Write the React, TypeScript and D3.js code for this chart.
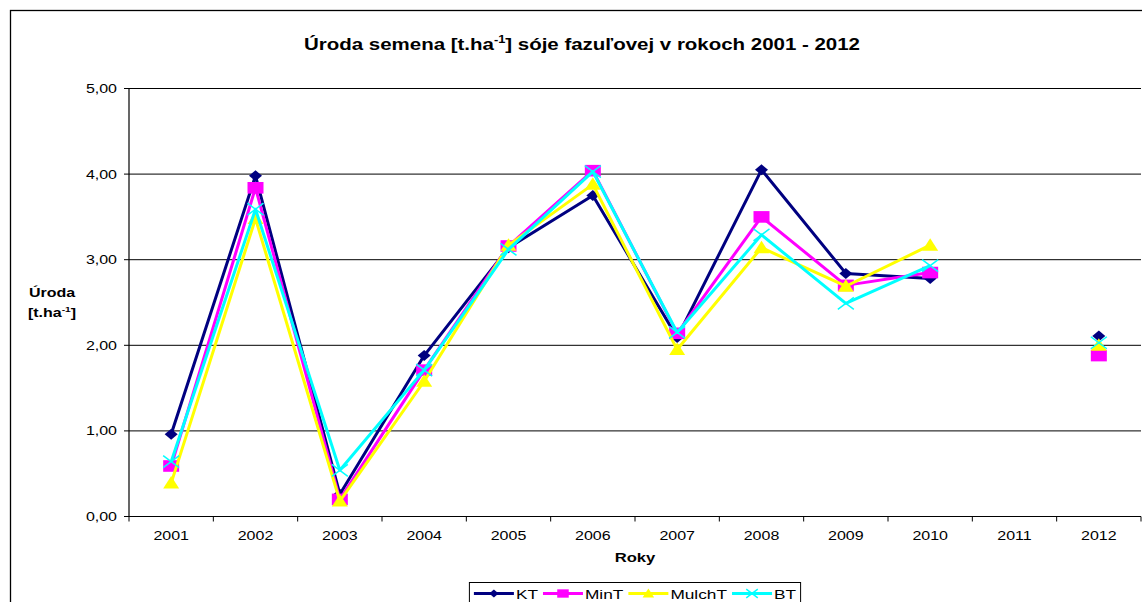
import React, { useEffect, useRef } from "react";
import * as d3 from "d3";

// Yields of soybean seed per year and tillage variant (t/ha); 2011 has no data.
const years = ["2001", "2002", "2003", "2004", "2005", "2006", "2007", "2008", "2009", "2010", "2011", "2012"];
const KT: (number | null)[] = [0.96, 3.98, 0.26, 1.88, 3.14, 3.75, 2.09, 4.05, 2.84, 2.78, null, 2.11];
const MinT: (number | null)[] = [0.59, 3.84, 0.2, 1.71, 3.16, 4.04, 2.14, 3.5, 2.7, 2.85, null, 1.88];
const MulchT: (number | null)[] = [0.39, 3.48, 0.18, 1.58, 3.17, 3.88, 1.95, 3.14, 2.69, 3.17, null, 2.0];
const BT: (number | null)[] = [0.64, 3.59, 0.54, 1.71, 3.12, 4.03, 2.15, 3.29, 2.49, 2.93, null, 2.03];
const yTicks = [0, 1, 2, 3, 4, 5];

const seriesNames = ["KT", "MinT", "MulchT", "BT"];
const seriesValues = [KT, MinT, MulchT, BT];
const seriesColors = ["#000080", "#FF00FF", "#FFFF00", "#00FFFF"];
const seriesMarkers = ["diamond", "square", "triangle", "cross"];

const W = 1142;
const H = 602;
const SX = 1.28; // horizontal text stretch
const FONT = "'Liberation Sans', Arial, Helvetica, sans-serif";

function drawMarker(g: d3.Selection<SVGGElement, unknown, null, undefined>, kind: string, color: string, k: number) {
  if (kind === "diamond") {
    g.append("path")
      .attr("d", `M0,${-5.5 * k}L${6.5 * k},0L0,${5.5 * k}L${-6.5 * k},0Z`)
      .attr("fill", color);
  } else if (kind === "square") {
    g.append("rect")
      .attr("x", -8 * k)
      .attr("y", -5.8 * k)
      .attr("width", 16 * k)
      .attr("height", 11.6 * k)
      .attr("fill", color);
  } else if (kind === "triangle") {
    g.append("path")
      .attr("d", `M0,${-7 * k}L${8 * k},${5.5 * k}L${-8 * k},${5.5 * k}Z`)
      .attr("fill", color);
  } else {
    g.append("path")
      .attr("d", `M${-8 * k},${-6 * k}L${8 * k},${6 * k}M${-8 * k},${6 * k}L${8 * k},${-6 * k}`)
      .attr("stroke", color)
      .attr("stroke-width", 1.5)
      .attr("fill", "none");
  }
}

export default function App() {
  const ref = useRef<SVGSVGElement | null>(null);

  useEffect(() => {
    const svg = d3.select(ref.current as SVGSVGElement);
    svg.selectAll("*").remove();

    // chart frame
    svg.append("rect")
      .attr("x", 10.5)
      .attr("y", 10.5)
      .attr("width", 1300)
      .attr("height", 800)
      .attr("fill", "#fff")
      .attr("stroke", "#000")
      .attr("stroke-width", 1.3);

    const left = 129;
    const right = 1141;
    const top = 88.5;
    const bottom = 516.5;

    const x = d3.scaleBand<string>().domain(years).range([left, right]).padding(0);
    const y = d3.scaleLinear().domain([0, 5]).range([bottom, top]);

    // title
    const title = svg.append("text")
      .attr("transform", `translate(582,50) scale(${SX},1)`)
      .attr("text-anchor", "middle")
      .attr("font-family", FONT)
      .attr("font-weight", "bold")
      .attr("font-size", 16);
    title.append("tspan").text("Úroda semena [t.ha");
    title.append("tspan").attr("font-size", 10).attr("dy", -7).text("-1");
    title.append("tspan").attr("dy", 7).text("] sóje fazuľovej v rokoch 2001 - 2012");

    // gridlines
    svg.append("g")
      .selectAll("line")
      .data(yTicks.filter((t) => t > 0))
      .join("line")
      .attr("x1", left)
      .attr("x2", right)
      .attr("y1", (d) => y(d))
      .attr("y2", (d) => y(d))
      .attr("stroke", "#000")
      .attr("stroke-width", 1);

    // y axis
    svg.append("line")
      .attr("x1", left).attr("x2", left)
      .attr("y1", top).attr("y2", bottom)
      .attr("stroke", "#000").attr("stroke-width", 1.2);
    svg.append("g")
      .selectAll("line")
      .data(yTicks)
      .join("line")
      .attr("x1", left - 5)
      .attr("x2", left)
      .attr("y1", (d) => y(d))
      .attr("y2", (d) => y(d))
      .attr("stroke", "#000");
    svg.append("g")
      .selectAll("text")
      .data(yTicks)
      .join("text")
      .attr("transform", (d) => `translate(117,${y(d) + 4.5}) scale(${SX},1)`)
      .attr("text-anchor", "end")
      .attr("font-family", FONT)
      .attr("font-size", 12.5)
      .text((d) => d3.format(".2f")(d).replace(".", ","));

    // x axis
    svg.append("line")
      .attr("x1", left).attr("x2", right)
      .attr("y1", bottom).attr("y2", bottom)
      .attr("stroke", "#000").attr("stroke-width", 1.2);
    const bounds = years.map((yr) => x(yr) as number).concat([right]);
    svg.append("g")
      .selectAll("line")
      .data(bounds)
      .join("line")
      .attr("x1", (d) => d)
      .attr("x2", (d) => d)
      .attr("y1", bottom)
      .attr("y2", bottom + 5)
      .attr("stroke", "#000");
    svg.append("g")
      .selectAll("text")
      .data(years)
      .join("text")
      .attr("transform", (d) => `translate(${(x(d) as number) + x.bandwidth() / 2},540) scale(${SX},1)`)
      .attr("text-anchor", "middle")
      .attr("font-family", FONT)
      .attr("font-size", 12.5)
      .text((d) => d);

    // axis titles
    svg.append("text")
      .attr("transform", `translate(${(left + right) / 2},562) scale(${SX},1)`)
      .attr("text-anchor", "middle")
      .attr("font-family", FONT)
      .attr("font-weight", "bold")
      .attr("font-size", 13)
      .text("Roky");
    svg.append("text")
      .attr("transform", `translate(52,297) scale(${SX},1)`)
      .attr("text-anchor", "middle")
      .attr("font-family", FONT)
      .attr("font-weight", "bold")
      .attr("font-size", 12.5)
      .text("Úroda");
    const yl = svg.append("text")
      .attr("transform", `translate(52,317) scale(${SX},1)`)
      .attr("text-anchor", "middle")
      .attr("font-family", FONT)
      .attr("font-weight", "bold")
      .attr("font-size", 12.5);
    yl.append("tspan").text("[t.ha");
    yl.append("tspan").attr("font-size", 8).attr("dy", -5).text("-1");
    yl.append("tspan").attr("dy", 5).text("]");

    // series
    const cx = (i: number) => (x(years[i]) as number) + x.bandwidth() / 2;
    const line = d3.line<number | null>()
      .defined((d) => d !== null)
      .x((_, i) => cx(i))
      .y((d) => y(d as number));

    seriesValues.forEach((vals, si) => {
      const g = svg.append("g");
      g.append("path")
        .attr("d", line(vals) as string)
        .attr("fill", "none")
        .attr("stroke", seriesColors[si])
        .attr("stroke-width", 3)
        .attr("stroke-linejoin", "round");
      vals.forEach((v, i) => {
        if (v === null) return;
        const m = g.append("g").attr("transform", `translate(${cx(i)},${y(v)})`);
        drawMarker(m, seriesMarkers[si], seriesColors[si], 1);
      });
    });

    // legend
    const legend = svg.append("g");
    const box = legend.append("rect")
      .attr("y", 582.5)
      .attr("height", 40)
      .attr("fill", "#fff")
      .attr("stroke", "#000")
      .attr("stroke-width", 1);
    let cursor = 0;
    const items = legend.append("g");
    seriesNames.forEach((name, si) => {
      const it = items.append("g").attr("transform", `translate(${cursor},0)`);
      it.append("line")
        .attr("x1", 0).attr("x2", 40)
        .attr("y1", 593.5).attr("y2", 593.5)
        .attr("stroke", seriesColors[si])
        .attr("stroke-width", 3);
      const m = it.append("g").attr("transform", "translate(20,593.5)");
      drawMarker(m, seriesMarkers[si], seriesColors[si], 0.72);
      const t = it.append("text")
        .attr("transform", `translate(42,598.5) scale(${SX},1)`)
        .attr("font-family", FONT)
        .attr("font-size", 13.5)
        .text(name);
      const tw = (t.node() as SVGTextElement).getComputedTextLength() * SX;
      cursor += 42 + tw + 5;
    });
    const total = cursor - 5;
    const pad = 4.5;
    const cxLegend = (left + right) / 2;
    const lx = cxLegend - total / 2;
    items.attr("transform", `translate(${lx},0)`);
    box.attr("x", lx - pad).attr("width", total + pad * 2);
  }, []);

  return (
    <svg
      ref={ref}
      width={W}
      height={H}
      style={{ position: "absolute", left: 0, top: 0, background: "#fff" }}
    />
  );
}
